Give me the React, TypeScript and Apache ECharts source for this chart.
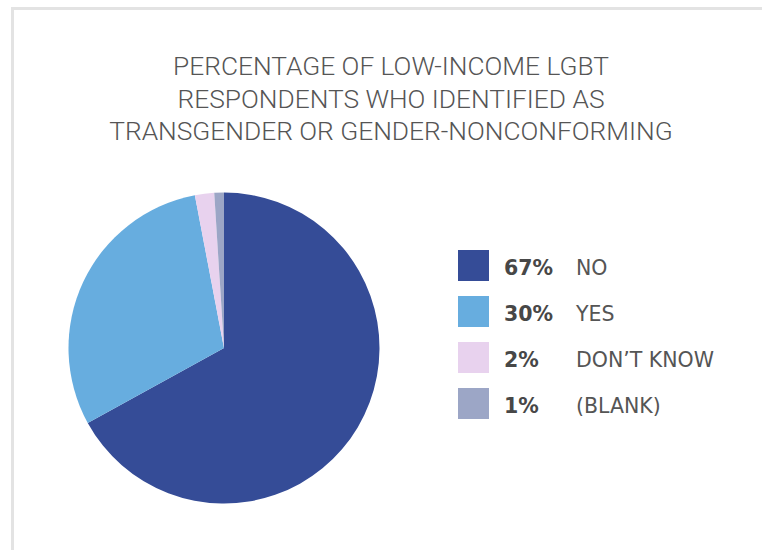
import React, { useEffect, useRef } from "react";
import * as echarts from "echarts";

const titleLines = [
  "PERCENTAGE OF LOW-INCOME LGBT",
  "RESPONDENTS WHO IDENTIFIED AS",
  "TRANSGENDER OR GENDER-NONCONFORMING",
];
const categories = ["NO", "YES", "DON\u2019T KNOW", "(BLANK)"];
const values = [67, 30, 2, 1];
const colors = ["#354c97", "#67addf", "#e8d2ee", "#9ca6c6"];

export default function App() {
  const ref = useRef<HTMLDivElement>(null);
  useEffect(() => {
    if (!ref.current) return;
    const chart = echarts.init(ref.current, null, { renderer: "svg" });
    const data = categories.map((c, i) => ({
      name: c,
      value: values[i],
      itemStyle: { color: colors[i] },
    }));
    const font = "Roboto, 'Noto Sans', sans-serif";
    const legendFont = "'DejaVu Sans', sans-serif";
    chart.setOption({
      animation: false,
      backgroundColor: "#ffffff",
      graphic: [
        { type: "rect", shape: { x: 11, y: 7, width: 751, height: 3 }, style: { fill: "#e3e3e3" }, silent: true },
        { type: "rect", shape: { x: 11, y: 7, width: 3, height: 543 }, style: { fill: "#e3e3e3" }, silent: true },
        {
          type: "text",
          x: 391,
          y: 50,
          style: {
            text: titleLines.join("\n"),
            fontFamily: font,
            fontSize: 26.3,
            fontWeight: 300,
            lineHeight: 32.5,
            fill: "#555555",
            align: "center",
            verticalAlign: "top",
          },
          silent: true,
        },
      ],
      legend: {
        orient: "vertical",
        left: 458,
        top: 250,
        padding: 0,
        itemWidth: 31,
        itemHeight: 31,
        itemGap: 15,
        icon: "rect",
        selectedMode: false,
        data: categories,
        formatter: (name: string) => {
          const i = categories.indexOf(name);
          return `{p|${values[i]}%}{n|${name}}`;
        },
        textStyle: {
          fontFamily: legendFont,
          fontSize: 20.5,
          rich: {
            p: { fontFamily: legendFont, fontSize: 20.5, fontWeight: "bold", color: "#474747", width: 72, padding: [4, 0, 0, 10] },
            n: { fontFamily: legendFont, fontSize: 20.5, color: "#555555", padding: [4, 0, 0, 0] },
          },
        },
      },
      series: [
        {
          type: "pie",
          center: [224, 348],
          radius: [0, 155.5],
          startAngle: 90,
          clockwise: true,
          label: { show: false },
          labelLine: { show: false },
          emphasis: { disabled: true },
          silent: true,
          data,
        },
      ],
    });
    return () => chart.dispose();
  }, []);
  return (
    <div
      ref={ref}
      style={{ position: "fixed", left: 0, top: 0, width: 762, height: 550 }}
    />
  );
}
